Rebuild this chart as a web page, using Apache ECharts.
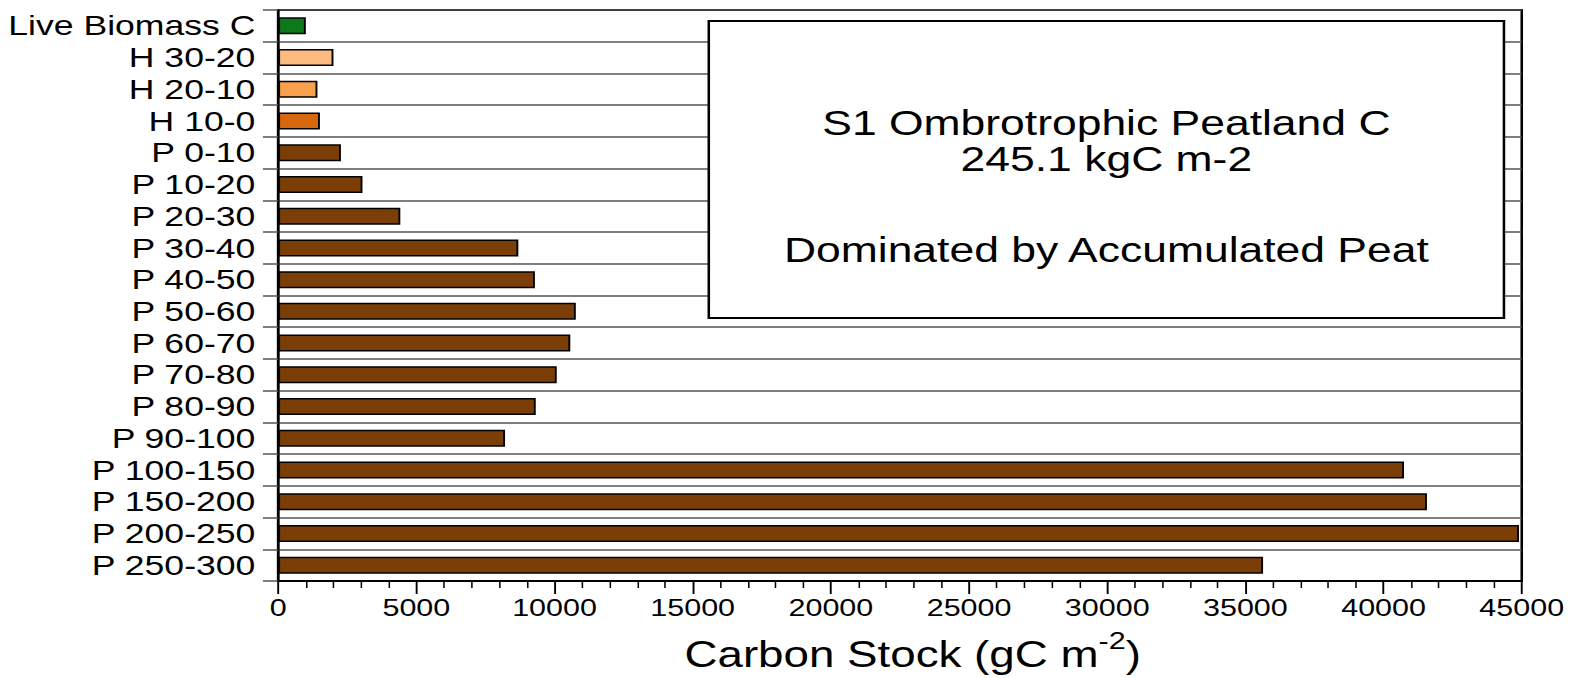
<!DOCTYPE html>
<html>
<head>
<meta charset="utf-8">
<script src="https://cdn.jsdelivr.net/npm/echarts@6/dist/echarts.min.js"></script>
<style>
html,body{margin:0;padding:0;background:#fff;overflow:hidden;}
#c{width:1236px;height:678px;transform:scaleX(1.27023);transform-origin:0 0;}
</style>
</head>
<body>
<div id="c"></div>
<script>
// ---- data ----
const categories = ['Live Biomass C','H 30-20','H 20-10','H 10-0','P 0-10','P 10-20','P 20-30','P 30-40','P 40-50','P 50-60','P 60-70','P 70-80','P 80-90','P 90-100','P 100-150','P 150-200','P 200-250','P 250-300'];
const carbonStock = [1000, 2000, 1420, 1510, 2270, 3050, 4420, 8690, 9290, 10770, 10570, 10080, 9320, 8210, 40740, 41570, 44900, 35640];
const xTicks = [0, 5000, 10000, 15000, 20000, 25000, 30000, 35000, 40000, 45000];
const boxLines = ['S1 Ombrotrophic Peatland C', '245.1 kgC m-2', 'Dominated by Accumulated Peat'];

// ---- styles ----
const FONT = '"Liberation Sans", Arial, Helvetica, sans-serif';
const palette = { 'Live Biomass C': '#0c7a1b', 'H 30-20': '#fdbb82', 'H 20-10': '#f9a04d', 'H 10-0': '#d7680d' };
const peatColor = '#7b3e07';

const chart = echarts.init(document.getElementById('c'), null, { renderer: 'svg' });

const option = {
  animation: false,
  backgroundColor: '#fff',
  grid: { left: 219, right: 38, top: 10, bottom: 96, show: true, borderColor: '#000', borderWidth: 2, backgroundColor: 'transparent' },
  xAxis: {
    type: 'value', min: xTicks[0], max: xTicks[xTicks.length - 1], interval: xTicks[1] - xTicks[0],
    axisLine: { show: true, lineStyle: { color: '#000', width: 2 } },
    axisTick: { show: true, length: 13, lineStyle: { color: '#000', width: 1.5 } },
    minorTick: { show: true, splitNumber: 5, length: 7, lineStyle: { color: '#000', width: 1.2 } },
    splitLine: { show: false },
    axisLabel: { color: '#000', fontSize: 24, fontFamily: FONT, margin: 15, formatter: v => String(v) },
    name: '{t|Carbon Stock (gC m}{s|-2}{t|)}',
    nameLocation: 'middle', nameGap: 48,
    nameTextStyle: {
      padding: [0, 0, 0, 20],
      rich: {
        t: { fontSize: 36, fontFamily: FONT, color: '#000', lineHeight: 44, verticalAlign: 'bottom' },
        s: { fontSize: 24, fontFamily: FONT, color: '#000', lineHeight: 44, verticalAlign: 'top' }
      }
    }
  },
  yAxis: {
    type: 'category', data: categories, inverse: true,
    axisLine: { show: true, lineStyle: { color: '#000', width: 2 } },
    axisTick: { show: true, interval: 0, length: 12, lineStyle: { color: '#555', width: 1.5 } },
    splitLine: { show: true, interval: 0, lineStyle: { color: '#555', width: 1.5 } },
    axisLabel: { interval: 0, color: '#000', fontSize: 28, fontFamily: FONT, margin: 18, padding: [0, 0, 4, 0] }
  },
  series: [{
    type: 'bar',
    data: carbonStock.map((v, i) => ({ value: v, itemStyle: { color: palette[categories[i]] || peatColor } })),
    barWidth: 17,
    itemStyle: { borderColor: '#000', borderWidth: 1.5 },
    emphasis: { disabled: true }
  }],
  graphic: [{
    type: 'group', left: 557, top: 20,
    children: [
      { type: 'rect', shape: { x: 0, y: 0, width: 626, height: 297 }, style: { fill: '#fff', stroke: '#000', lineWidth: 2 }, z: 100 },
      { type: 'text', x: 313, y: 102, style: { text: boxLines[0], font: '35px ' + FONT, fill: '#000', align: 'center', verticalAlign: 'middle' }, z: 101 },
      { type: 'text', x: 313, y: 138, style: { text: boxLines[1], font: '35px ' + FONT, fill: '#000', align: 'center', verticalAlign: 'middle' }, z: 101 },
      { type: 'text', x: 313, y: 229, style: { text: boxLines[2], font: '35px ' + FONT, fill: '#000', align: 'center', verticalAlign: 'middle' }, z: 101 }
    ]
  }]
};
chart.setOption(option);
</script>
</body>
</html>
